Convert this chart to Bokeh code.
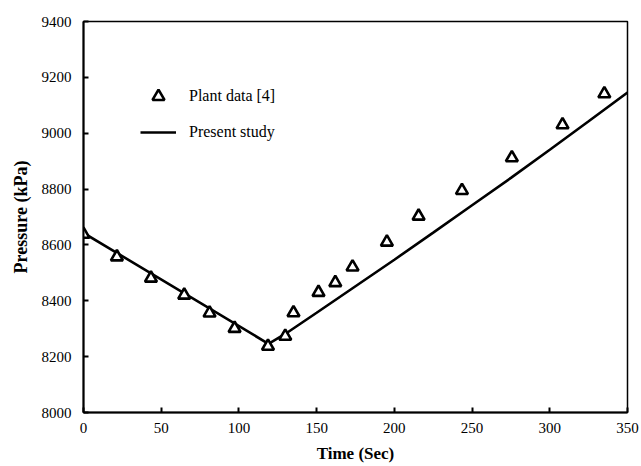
from bokeh.plotting import figure
from bokeh.models import Range1d, FixedTicker, Legend, LegendItem
from bokeh.embed import file_html
from bokeh.resources import INLINE

# Plant measurements
plant_time = [0, 21.5, 43.4, 64.8, 81.1, 97.2, 118.7, 129.8, 135.1, 151.2,
              162.0, 173.1, 195.2, 215.6, 243.5, 275.6, 308.2, 335.1]
plant_pressure = [8638, 8557, 8481, 8420, 8356, 8301, 8237, 8273, 8357, 8430,
                  8465, 8521, 8610, 8703, 8795, 8912, 9030, 9141]

# Model prediction
model_time = [0, 119, 130, 150, 175, 200, 225, 250, 275, 300, 325, 350]
model_pressure = [8643, 8246, 8282, 8357, 8452, 8547, 8644, 8742, 8840, 8941, 9043, 9146]

x_ticks = [0, 50, 100, 150, 200, 250, 300, 350]
y_ticks = [8000, 8200, 8400, 8600, 8800, 9000, 9200, 9400]

SERIF = "Liberation Serif"

p = figure(width=641, height=466, output_backend="svg", toolbar_location=None,
           x_range=Range1d(0, 350), y_range=Range1d(8000, 9400),
           min_border_left=83, min_border_right=14, min_border_top=21,
           min_border_bottom=54)

p.grid.visible = False
p.background_fill_color = "white"
p.border_fill_color = "white"
p.outline_line_color = "black"
p.outline_line_width = 1.5

for ax, ticks in ((p.xaxis[0], x_ticks), (p.yaxis[0], y_ticks)):
    ax.ticker = FixedTicker(ticks=ticks)
    ax.axis_line_color = "black"
    ax.axis_line_width = 2
    ax.major_tick_in = 5
    ax.major_tick_out = 0
    ax.major_tick_line_width = 2
    ax.minor_tick_line_color = None
    ax.major_label_text_font = SERIF
    ax.major_label_text_font_size = "15px"
    ax.major_label_text_color = "black"
    ax.axis_label_text_font = SERIF
    ax.axis_label_text_font_style = "bold"
    ax.axis_label_text_color = "black"

p.xaxis.axis_label = "Time (Sec)"
p.yaxis.axis_label = "Pressure (kPa)"
p.xaxis.axis_label_text_font_size = "17px"
p.yaxis.axis_label_text_font_size = "18px"
p.xaxis.major_label_standoff = 10
p.yaxis.major_label_standoff = 12
p.xaxis.axis_label_standoff = 8
p.yaxis.axis_label_standoff = 8

line = p.line(model_time, model_pressure, line_color="black", line_width=2.6)
pts = p.scatter(plant_time, plant_pressure, marker="triangle", size=12,
                fill_color="white", line_color="black", line_width=2.6)

legend = Legend(items=[LegendItem(label="Plant data [4]", renderers=[pts]),
                       LegendItem(label="Present study", renderers=[line])],
                location=(57, 265), orientation="vertical",
                glyph_width=36, glyph_height=30, spacing=6,
                label_standoff=13, padding=0, margin=0,
                border_line_color=None, background_fill_alpha=0,
                label_text_font=SERIF, label_text_font_size="16px",
                label_text_color="black")
p.add_layout(legend, "center")

open("out.html", "w").write(file_html(p, INLINE))
